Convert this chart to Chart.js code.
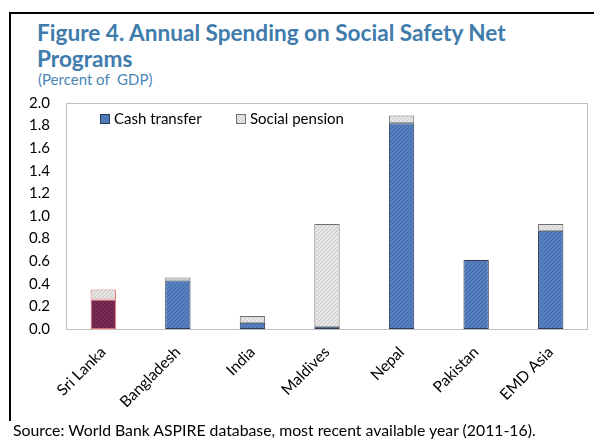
<!DOCTYPE html>
<html><head><meta charset="utf-8">
<script src="https://cdn.jsdelivr.net/npm/chart.js@4"></script>
<style>
html,body{margin:0;padding:0;background:#fff;width:594px;height:440px;overflow:hidden;font-family:Lato,"Open Sans",sans-serif;}
#frame{position:absolute;left:9px;top:12px;width:600px;height:407px;border-left:2px solid #000;border-top:2px solid #000;}
#title{position:absolute;left:37px;top:20px;color:#3F7CAC;font-weight:bold;font-size:22.6px;line-height:26px;}
#sub{position:absolute;left:38px;top:70px;color:#4A86B8;font-size:15px;}
#src{position:absolute;left:13px;top:420px;color:#000;font-size:15.8px;}
#wrap{position:absolute;left:0;top:0;width:594px;height:440px;}
</style></head>
<body>
<div id="frame"></div>
<div id="title">Figure 4. Annual Spending on Social Safety Net<br>Programs</div>
<div id="sub">(Percent of&nbsp; GDP)</div>
<div id="wrap"><canvas id="c" width="594" height="440"></canvas></div>
<div id="src">Source: World Bank ASPIRE database, most recent available year (2011-16).</div>
<script>
const categories = ["Sri Lanka","Bangladesh","India","Maldives","Nepal","Pakistan","EMD Asia"];
const cashTransfer = [0.26, 0.43, 0.055, 0.02, 1.82, 0.61, 0.87];
const socialPension = [0.09, 0.025, 0.06, 0.91, 0.07, 0, 0.06];
const yTicks = [0,0.2,0.4,0.6,0.8,1.0,1.2,1.4,1.6,1.8,2.0];

function hatch(base, line){
  const c=document.createElement('canvas'); c.width=4; c.height=4;
  const x=c.getContext('2d');
  x.fillStyle=base; x.fillRect(0,0,4,4);
  x.fillStyle=line;
  for(let i=0;i<4;i++){ x.fillRect(i,3-i,1,1); }
  return x.createPattern(c,'repeat');
}
const blue=hatch('#5680BF','#3F68A6');
const maroon=hatch('#7D2B55','#5E1F45');
const gray=hatch('#E6E6E6','#C8C8C8');

const cashBg = categories.map((c,i)=> i===0 ? maroon : blue);
const cashBorder = categories.map((c,i)=> i===0 ? '#E07070' : '#2B3A55');
const penBorder = categories.map((c,i)=> i===0 ? '#E07070' : '#6E6E6E');

const LEFT=66, RIGHT=588, TOP=103, BOTTOM=329;

const framePlugin={
  id:'framePlugin',
  beforeDatasetsDraw(chart){
    const a=chart.chartArea, g=chart.ctx;
    g.save(); g.strokeStyle='#BFBFBF'; g.lineWidth=1;
    g.strokeRect(Math.round(a.left)+0.5, Math.round(a.top)+0.5, Math.round(a.right-a.left)-1, Math.round(a.bottom-a.top));
    g.restore();
  },
  afterDraw(chart){
    const g=chart.ctx;
    g.save();
    g.font='15px Lato, "Open Sans", sans-serif';
    g.textBaseline='middle';
    const items=[{x:100,label:chart.data.datasets[0].label,fill:blue,stroke:'#2B3A55'},
                 {x:236,label:chart.data.datasets[1].label,fill:gray,stroke:'#6E6E6E'}];
    items.forEach(it=>{
      g.fillStyle=it.fill; g.fillRect(it.x,114,10,10);
      g.strokeStyle=it.stroke; g.lineWidth=1; g.strokeRect(it.x+0.5,114.5,9,9);
      g.fillStyle='#000'; g.fillText(it.label,it.x+14,119.5);
    });
    g.restore();
  }
};

new Chart(document.getElementById('c'),{
  type:'bar',
  data:{labels:categories,datasets:[
    {label:'Cash transfer',data:cashTransfer,backgroundColor:cashBg,borderColor:cashBorder,borderWidth:1,borderSkipped:false,barPercentage:0.34,categoryPercentage:1},
    {label:'Social pension',data:socialPension,backgroundColor:gray,borderColor:penBorder,borderWidth:1,borderSkipped:false,barPercentage:0.34,categoryPercentage:1}
  ]},
  options:{
    responsive:false,animation:false,
    layout:{padding:{top:TOP,right:594-RIGHT,left:0,bottom:0}},
    plugins:{legend:{display:false},tooltip:{enabled:false},title:{display:false}},
    scales:{
      x:{stacked:true,grid:{display:false,drawTicks:false},border:{display:false},
         ticks:{color:'#000',font:{size:15.5,family:'Lato, "Open Sans", sans-serif'},maxRotation:45,minRotation:45,padding:14,autoSkip:false},
         afterFit(s){s.height=440-BOTTOM;}},
      y:{stacked:true,min:0,max:2,grid:{display:false,drawTicks:false},border:{display:false},
         afterBuildTicks(s){s.ticks=yTicks.map(v=>({value:v}));},
         ticks:{color:'#000',font:{size:15,family:'Lato, "Open Sans", sans-serif'},padding:16,callback:v=>v.toFixed(1)},
         afterFit(s){s.width=LEFT;}}
    }
  },
  plugins:[framePlugin]
});
</script>
</body></html>
